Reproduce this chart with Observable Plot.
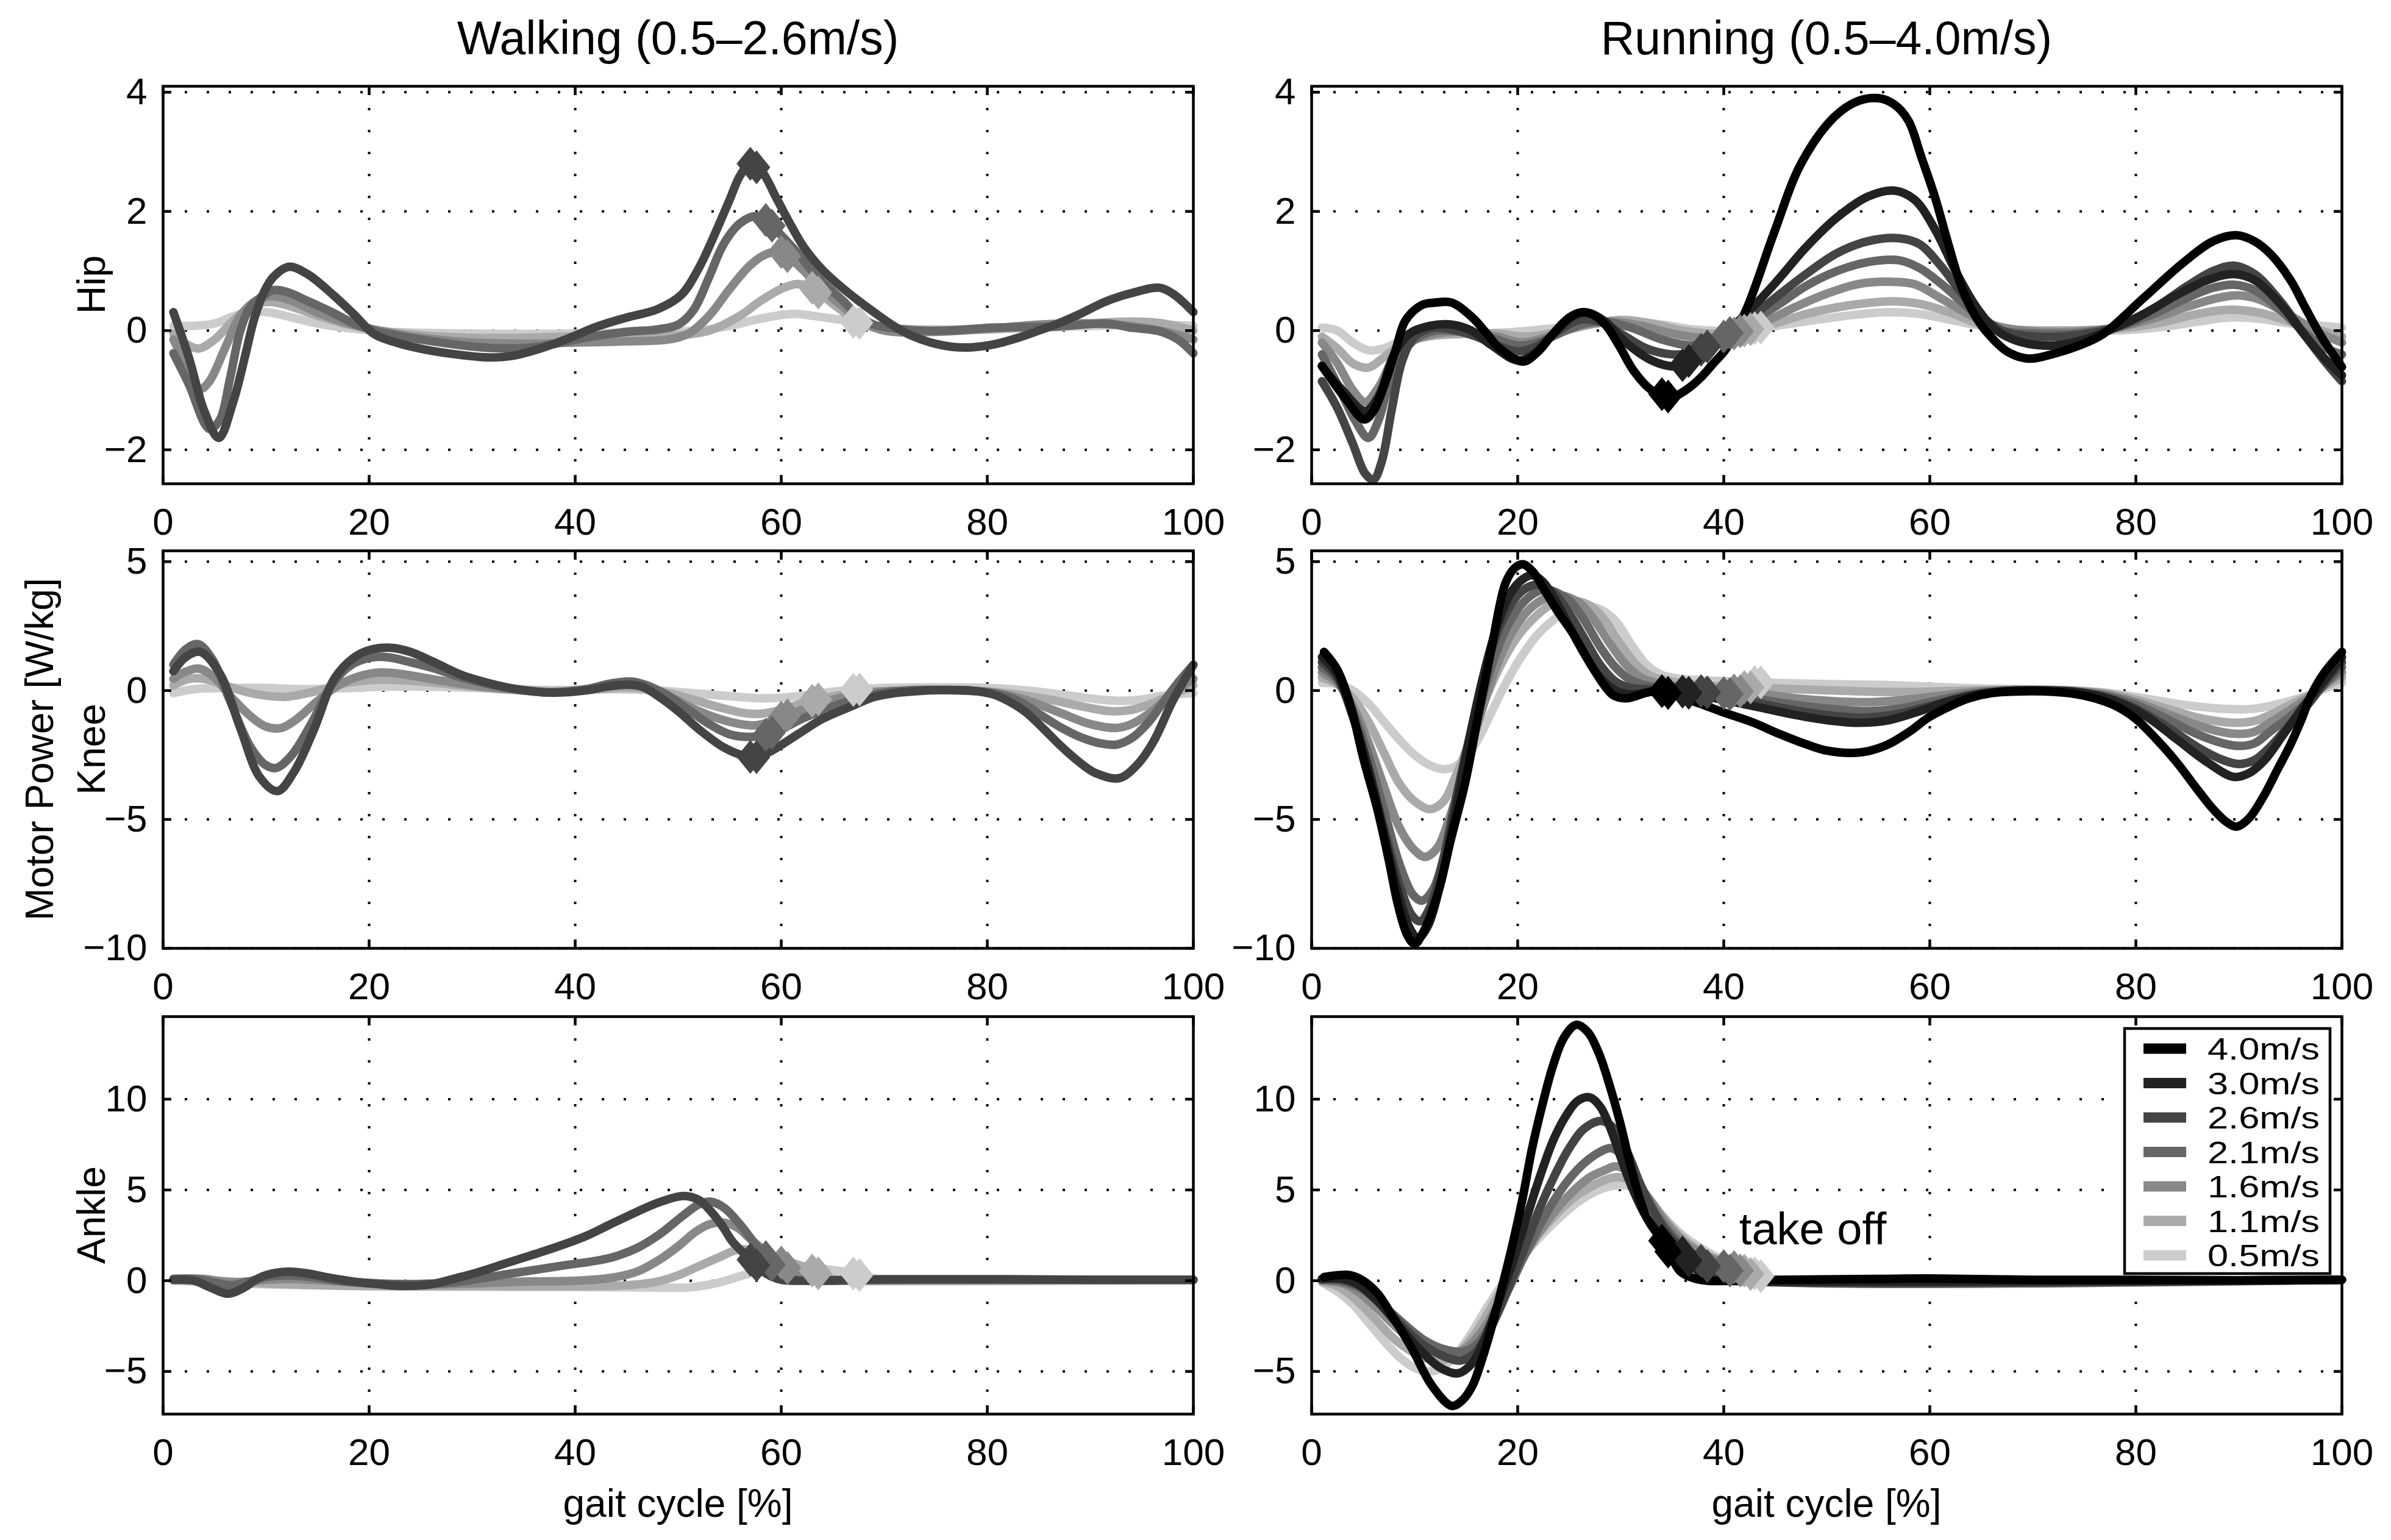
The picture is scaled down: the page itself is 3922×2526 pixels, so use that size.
<!DOCTYPE html>
<html><head><meta charset="utf-8">
<script src="https://cdn.jsdelivr.net/npm/d3@7"></script>
<script src="https://cdn.jsdelivr.net/npm/@observablehq/plot@0.6"></script>
<style>
html,body{margin:0;padding:0;background:#fff;}
#fig{position:relative;width:3922px;height:2526px;background:#fff;font-family:"Liberation Sans",Arial,Helvetica,sans-serif;}
#fig .panel{position:absolute;}
#fig svg{overflow:visible;}
#overlay{position:absolute;left:0;top:0;pointer-events:none;}
</style></head>
<body><div id="fig"></div>
<script>
// ---------- categories / labels ----------
const walkSpeeds = ["2.6m/s","2.1m/s","1.6m/s","1.1m/s","0.5m/s"];
const runSpeeds = ["4.0m/s","3.0m/s","2.6m/s","2.1m/s","1.6m/s","1.1m/s","0.5m/s"];
const walkColors = ["#444444","#666666","#888888","#aaaaaa","#cccccc"];
const runColors = ["#000000","#222222","#444444","#666666","#888888","#aaaaaa","#cccccc"];
const walkToeOff = [57, 58.5, 60, 63, 67];
const runToeOff = [34, 36, 37.8, 40, 41, 42, 43];
const xTicks = [0, 20, 40, 60, 80, 100];
const xGrid = [20, 40, 60, 80];
const hipTicks = [-2, 0, 2, 4];
const kneeTicks = [-10, -5, 0, 5];
const ankleTicks = [-5, 0, 5, 10];
const hipDomain = [-2.57, 4.1];
const kneeDomain = [-10, 5.42];
const ankleDomain = [-7.35, 14.55];
const colTitles = ["Walking (0.5\u20132.6m/s)", "Running (0.5\u20134.0m/s)"];
const rowLabels = ["Hip", "Knee", "Ankle"];
const yTitle = "Motor Power [W/kg]";
const xTitle = "gait cycle [%]";
const takeOffLabel = {x: 41.5, y: 2.0, text: "take off"};

// ---------- Walking: Hip ----------
const wHip26 = [[1,0.31],[2.5,-0.45],[4,-1.35],[5.4,-1.8],[6.8,-1.2],[8,-0.4],[8.8,0.17],[9.8,0.65],[10.7,0.9],[12.2,1.07],[14,0.95],[16.5,0.6],[18.6,0.26],[20.5,-0.06],[23,-0.22],[25.5,-0.32],[28.5,-0.4],[31.6,-0.45],[34,-0.42],[36.8,-0.29],[39.5,-0.12],[42,0.06],[45,0.22],[48,0.36],[50.3,0.6],[52,1.05],[53.5,1.6],[55,2.2],[56,2.6],[57,2.8],[58,2.7],[59.6,2.2],[61,1.75],[62.2,1.4],[64,1.02],[65.5,0.78],[67.5,0.5],[69.4,0.26],[71,0.07],[72.6,-0.08],[74.5,-0.2],[76.5,-0.27],[78.5,-0.28],[80.4,-0.24],[83,-0.12],[85,0.0],[86.9,0.12],[89,0.28],[91.5,0.49],[94,0.63],[96.7,0.72],[98,0.62],[99,0.48],[100,0.31]];
const wHip21 = [[1,-0.38],[2.5,-0.9],[4.5,-1.65],[5.5,-1.5],[6.5,-0.8],[7.5,0.0],[8.5,0.4],[10,0.62],[10.7,0.68],[12,0.65],[14,0.5],[16.5,0.3],[18.5,0.12],[20.5,0.0],[25,-0.15],[31.6,-0.29],[36,-0.28],[41,-0.12],[45,-0.02],[48,0.02],[50,0.1],[51.5,0.35],[53,0.9],[54.4,1.45],[56,1.8],[57.5,1.92],[58.6,1.85],[60,1.6],[61.6,1.3],[63,1.0],[64,0.82],[66,0.5],[67.4,0.26],[69,0.1],[72.6,0.01],[76,0.0],[80.4,0.05],[86.9,0.07],[91.5,0.12],[94,0.05],[96.7,-0.01],[98.5,-0.15],[100,-0.38]];
const wHip16 = [[1,-0.15],[2.5,-0.65],[3.6,-0.98],[4.5,-0.85],[6,-0.3],[7.5,0.25],[9,0.5],[10.5,0.58],[12.5,0.5],[15,0.3],[18,0.12],[21,0.0],[25,-0.12],[30,-0.2],[35,-0.22],[40,-0.2],[45,-0.18],[49,-0.15],[51,-0.05],[53,0.25],[55,0.7],[57,1.1],[58.5,1.28],[60,1.32],[61,1.2],[62.5,0.95],[64,0.7],[66,0.4],[68,0.15],[70,0.0],[75,-0.02],[80,0.03],[85,0.1],[90,0.12],[95,0.05],[98,-0.05],[100,-0.15]];
const wHip11 = [[1,-0.05],[2.5,-0.25],[3.5,-0.3],[5,-0.15],[7,0.2],[9,0.45],[10.5,0.48],[12.5,0.4],[15,0.25],[18,0.1],[21,0.0],[25,-0.08],[30,-0.12],[35,-0.12],[40,-0.1],[45,-0.1],[50,-0.08],[53,0.0],[56,0.25],[58,0.5],[60,0.7],[61.5,0.78],[63,0.72],[65,0.45],[67,0.2],[69,0.05],[72,0.0],[80,0.02],[86,0.08],[90,0.12],[94,0.15],[97,0.12],[100,0.0]];
const wHip05 = [[1,0.08],[3,0.08],[5,0.12],[7,0.25],[9,0.32],[10.5,0.3],[12.5,0.22],[15,0.12],[18,0.04],[22,-0.02],[30,-0.05],[40,-0.05],[48,-0.02],[52,0.0],[55,0.08],[58,0.2],[61,0.28],[63,0.25],[65,0.2],[67,0.15],[70,0.05],[75,0.02],[85,0.05],[95,0.1],[100,0.08]];

// ---------- Walking: Knee ----------
const wKnee26 = [[1,0.75],[2.2,1.3],[3.6,1.5],[5.5,0.66],[7.5,-1.46],[9.4,-3.37],[11.1,-3.9],[12.7,-3.16],[14.7,-1.46],[16.6,0.45],[18.6,1.3],[20.3,1.6],[22.1,1.66],[24,1.5],[26.4,1.08],[29,0.6],[31.6,0.29],[34,0.08],[37.5,-0.08],[41,0.0],[43,0.15],[45,0.23],[46.5,0.15],[48,-0.2],[50,-0.8],[52,-1.5],[54.4,-2.2],[56.5,-2.55],[57.5,-2.6],[59,-2.35],[61.6,-1.7],[64,-1.1],[66.8,-0.61],[69,-0.25],[71,-0.1],[74,0.0],[76,0.02],[78.5,0.0],[80.5,-0.14],[82,-0.4],[83.7,-0.83],[85.5,-1.5],[87,-2.1],[89,-2.8],[90.5,-3.2],[92.8,-3.4],[94.5,-2.9],[96.1,-2.0],[98,-0.4],[100,1.0]];
const wKnee21 = [[1,1.0],[2.2,1.6],[3.4,1.8],[4.8,1.2],[6.5,-0.4],[8.5,-2.2],[10,-2.9],[11,-3.0],[12.5,-2.5],[14.5,-1.2],[16.5,0.3],[18.5,1.05],[20.5,1.3],[22,1.28],[24,1.1],[26.4,0.85],[29,0.5],[31.6,0.25],[34,0.06],[37.5,-0.08],[41,0.05],[43.5,0.28],[45.5,0.35],[47,0.2],[49,-0.2],[51,-0.75],[53,-1.3],[55,-1.7],[57,-1.8],[58.5,-1.72],[60,-1.5],[62,-1.1],[64.5,-0.7],[67,-0.35],[69,-0.15],[72,0.0],[76,0.02],[80.5,-0.1],[83,-0.4],[85,-0.9],[87,-1.4],[89,-1.8],[91,-2.05],[92.5,-2.1],[94,-1.85],[95.5,-1.3],[97,-0.5],[98.5,0.3],[100,1.0]];
const wKnee16 = [[1,0.45],[2,0.7],[3.5,0.85],[5,0.5],[6.5,-0.2],[8.5,-1.0],[10,-1.4],[11.5,-1.45],[13,-1.1],[15,-0.4],[17,0.2],[19,0.55],[21,0.7],[23,0.65],[26,0.45],[30,0.2],[34,0.05],[38,-0.05],[41,0.05],[44,0.2],[46,0.2],[48,0.0],[50,-0.4],[52,-0.8],[54,-1.1],[56,-1.3],[57.5,-1.35],[59,-1.2],[61,-0.9],[63,-0.6],[65,-0.35],[68,-0.1],[72,0.0],[78,0.0],[81,-0.1],[84,-0.4],[87,-0.85],[90,-1.3],[92.5,-1.45],[94,-1.3],[96,-0.8],[98,-0.1],[100,0.45]];
const wKnee11 = [[1,0.2],[2.5,0.45],[4,0.45],[6,0.2],[8,-0.05],[10,-0.2],[12,-0.24],[14,-0.1],[16,0.1],[18,0.3],[20,0.4],[22,0.42],[25,0.35],[29,0.2],[33,0.05],[38,-0.05],[42,0.05],[45,0.12],[48,0.0],[51,-0.3],[54,-0.65],[56.5,-0.88],[58,-0.9],[60,-0.75],[62,-0.5],[64,-0.3],[67,-0.1],[72,0.0],[78,0.0],[82,-0.1],[86,-0.35],[89,-0.6],[92,-0.8],[94,-0.75],[96,-0.5],[98,-0.15],[100,0.2]];
const wKnee05 = [[1,-0.1],[3,0.05],[6,0.1],[10,0.1],[14,0.05],[18,0.1],[22,0.15],[26,0.15],[32,0.08],[38,0.02],[44,0.05],[48,0.0],[52,-0.12],[56,-0.25],[58,-0.3],[60,-0.28],[63,-0.15],[66,0.0],[70,0.1],[76,0.12],[80,0.1],[84,0.0],[88,-0.2],[91,-0.35],[93,-0.4],[95,-0.35],[97,-0.2],[100,-0.1]];

// ---------- Walking: Ankle ----------
const wAnkle26 = [[1,0.05],[3,0.0],[4.5,-0.35],[6.3,-0.72],[7.8,-0.4],[9.3,0.15],[10.8,0.42],[12.2,0.5],[14,0.4],[16,0.18],[18.5,-0.05],[21,-0.2],[23.6,-0.29],[26,-0.2],[28.5,0.15],[30.5,0.45],[33.5,1.0],[36,1.45],[38.4,1.9],[41,2.45],[43.4,3.1],[46,3.8],[48.3,4.35],[50.5,4.67],[52,4.45],[53.2,3.8],[54.3,3.0],[55.2,2.2],[56.2,1.6],[57.2,1.05],[58.5,0.4],[60,0.05],[62,0.0],[70,0.08],[80,0.08],[90,0.05],[100,0.05]];
const wAnkle21 = [[1,0.1],[3,0.1],[5,-0.1],[6.5,-0.25],[8,-0.1],[10,0.2],[12,0.3],[14,0.22],[17,0.0],[21,-0.15],[25,-0.18],[28.5,-0.07],[33.5,0.37],[38.4,0.8],[43.4,1.26],[46,1.8],[48.3,2.6],[50.5,3.6],[52,4.2],[53.2,4.35],[54.5,4.0],[56,3.1],[57.5,2.0],[58.5,1.3],[59.5,0.6],[61,0.1],[63,0.0],[70,0.05],[100,0.05]];
const wAnkle16 = [[1,0.1],[4,0.1],[6.5,-0.1],[9,0.0],[12,0.1],[16,0.0],[20,-0.15],[25,-0.2],[30,-0.15],[35,-0.05],[40,0.0],[43.4,0.15],[46,0.5],[48.3,1.2],[50,1.9],[51.7,2.7],[53,3.1],[54.4,3.2],[55.8,2.9],[57,2.3],[58.5,1.6],[60,1.0],[61,0.5],[62.5,0.1],[64,0.0],[70,0.05],[100,0.05]];
const wAnkle11 = [[1,0.05],[5,0.0],[10,-0.15],[15,-0.25],[20,-0.3],[30,-0.3],[40,-0.3],[45,-0.25],[48,-0.05],[50,0.3],[52,0.8],[54,1.3],[55.7,1.7],[57,1.7],[59,1.4],[61,1.0],[62.5,0.7],[64,0.3],[65.5,0.05],[67,0.0],[100,0.05]];
const wAnkle05 = [[1,0.0],[5,-0.1],[10,-0.2],[20,-0.3],[30,-0.33],[40,-0.35],[48,-0.38],[51,-0.37],[54,-0.1],[56,0.25],[58,0.55],[60,0.7],[62,0.72],[64,0.65],[66,0.5],[67,0.4],[68,0.25],[70,0.05],[72,0.0],[100,0.05]];

// ---------- Running: Hip ----------
const rHip40 = [[1,-0.59],[3.2,-1.12],[5.1,-1.49],[6,-1.35],[7.1,-0.89],[8.2,-0.3],[9.1,0.17],[10.7,0.43],[12,0.47],[13.6,0.47],[15.6,0.22],[17,-0.05],[18.2,-0.29],[20.5,-0.52],[22,-0.35],[23.4,-0.06],[25,0.22],[26.3,0.31],[27.5,0.25],[28.6,0.08],[30,-0.3],[31.2,-0.66],[33,-1.0],[34.8,-1.12],[36.3,-1.0],[37.7,-0.8],[39,-0.55],[40.3,-0.29],[42.3,0.4],[44.9,1.65],[47.5,2.8],[50.7,3.58],[53,3.85],[55,3.9],[56.5,3.8],[57.9,3.53],[59.2,2.9],[60.5,2.24],[61.8,1.45],[63.1,0.72],[64.4,0.25],[65.7,-0.06],[67.5,-0.35],[69.6,-0.47],[72.2,-0.38],[74.5,-0.25],[76.8,-0.06],[80.7,0.54],[84.6,1.14],[87.5,1.5],[89.8,1.6],[91.5,1.5],[93.1,1.28],[95,0.85],[96.4,0.4],[98,-0.1],[100,-0.61]];
const rHip30 = [[1,-0.6],[3,-1.0],[5.2,-1.35],[6.5,-1.1],[8,-0.4],[9.5,-0.05],[11.5,0.08],[13.6,0.1],[15.5,0.0],[17.5,-0.25],[20,-0.5],[21.5,-0.4],[23.5,-0.05],[25.5,0.25],[26.8,0.3],[28.5,0.15],[30.5,-0.2],[33,-0.5],[35,-0.6],[36,-0.58],[38,-0.35],[40,-0.05],[42,0.25],[45,0.8],[48,1.4],[51,1.9],[54,2.25],[56.5,2.35],[58.5,2.2],[60.5,1.7],[62.5,1.0],[64.5,0.4],[66.5,0.0],[69,-0.2],[72,-0.25],[75,-0.15],[78,0.05],[81,0.3],[84,0.6],[87,0.85],[89.5,0.95],[91.5,0.85],[94,0.45],[96.5,-0.1],[98.5,-0.5],[100,-0.75]];
const rHip26 = [[1,-0.85],[2.5,-1.3],[4,-1.9],[5.2,-2.4],[6,-2.5],[6.8,-2.2],[7.8,-1.3],[8.8,-0.5],[10,-0.1],[12,0.05],[14,0.0],[16,-0.1],[18,-0.25],[20,-0.35],[22,-0.25],[24,0.0],[26,0.18],[28,0.15],[30,-0.05],[32.5,-0.3],[35,-0.4],[37.5,-0.35],[40,-0.12],[42.5,0.2],[45,0.55],[48,0.95],[51,1.3],[54,1.5],[57,1.55],[59,1.45],[61,1.1],[63,0.65],[65,0.25],[67,0.0],[70,-0.1],[74,-0.08],[78,0.05],[82,0.4],[85,0.75],[87.5,1.0],[89.5,1.09],[91.5,0.95],[94,0.5],[96.5,-0.1],[98.5,-0.55],[100,-0.85]];
const rHip21 = [[1,-0.4],[2.5,-0.9],[4.2,-1.5],[5.5,-1.8],[6.5,-1.5],[7.5,-0.9],[8.8,-0.4],[10,-0.15],[12,0.0],[14,0.0],[16,-0.05],[18,-0.15],[20,-0.25],[22,-0.2],[24,-0.05],[26.5,0.12],[28.5,0.15],[31,0.05],[34,-0.15],[37,-0.25],[39.5,-0.15],[42,0.1],[45,0.4],[48,0.75],[51,1.0],[54,1.15],[57,1.18],[59,1.05],[61,0.8],[63,0.5],[65,0.2],[67,0.0],[70,-0.05],[74,-0.05],[78,0.05],[82,0.3],[85,0.55],[87.5,0.72],[89.5,0.77],[91.5,0.68],[94,0.35],[96.5,-0.05],[98.5,-0.3],[100,-0.4]];
const rHip16 = [[1,-0.2],[2.5,-0.55],[4,-1.0],[5.2,-1.2],[6.5,-0.95],[8,-0.45],[9.5,-0.2],[12,-0.05],[15,-0.02],[18,-0.1],[20.5,-0.2],[23,-0.1],[26,0.08],[29,0.15],[32,0.08],[35,-0.05],[38,-0.12],[41,-0.05],[44,0.15],[47,0.4],[50,0.62],[53,0.78],[56,0.82],[58.5,0.78],[61,0.55],[63.5,0.3],[66,0.1],[69,0.0],[74,-0.02],[78,0.05],[82,0.22],[85,0.4],[88,0.55],[90,0.59],[92,0.52],[95,0.25],[98,-0.05],[100,-0.2]];
const rHip11 = [[1,-0.1],[2.5,-0.3],[4,-0.55],[5.5,-0.62],[7,-0.45],[9,-0.2],[12,-0.08],[15,-0.05],[18,-0.05],[21,-0.1],[24,-0.02],[27,0.1],[30,0.18],[33,0.12],[36,0.0],[39,-0.05],[42,0.0],[45,0.12],[48,0.28],[52,0.42],[56,0.49],[59,0.45],[62,0.3],[65,0.1],[68,0.02],[72,0.0],[78,0.03],[82,0.12],[86,0.28],[89,0.35],[92,0.3],[95,0.15],[98,0.0],[100,-0.1]];
const rHip05 = [[1,0.05],[2.5,0.0],[4,-0.2],[5.5,-0.33],[7,-0.3],[9,-0.15],[12,-0.08],[16,-0.05],[20,-0.02],[24,0.05],[28,0.12],[31,0.15],[34,0.1],[37,0.02],[41,0.0],[45,0.08],[49,0.18],[53,0.27],[56,0.31],[59,0.28],[62,0.18],[65,0.08],[68,0.02],[72,0.0],[78,0.0],[82,0.05],[86,0.15],[89,0.22],[92,0.2],[95,0.12],[98,0.08],[100,0.05]];

// ---------- Running: Knee ----------
const rKnee40 = [[1.2,1.5],[2.5,0.8],[3.8,-0.61],[5,-2.6],[6.4,-4.64],[7.5,-6.6],[8.4,-8.35],[9.3,-9.5],[10,-9.83],[10.8,-9.4],[12.3,-7.8],[13.5,-5.8],[14.9,-3.58],[16.2,-0.9],[17.5,1.72],[18.8,4.15],[19.7,4.75],[20.5,4.9],[21.5,4.6],[22.7,3.83],[24,3.0],[25.3,2.25],[27.3,0.87],[28.5,0.15],[29.3,-0.19],[30.6,-0.3],[32.5,-0.08],[33.8,0.0],[35.5,-0.2],[37.7,-0.51],[40,-0.85],[42.9,-1.25],[45.5,-1.7],[48.1,-2.1],[50,-2.33],[52.4,-2.42],[54,-2.35],[55.9,-2.1],[58,-1.6],[59.9,-1.04],[62,-0.6],[63.8,-0.3],[66,-0.1],[69,-0.03],[72,-0.05],[74.2,-0.14],[76,-0.3],[78.1,-0.61],[80,-1.1],[82,-1.89],[84,-2.8],[85.9,-3.8],[87.5,-4.6],[88.8,-5.1],[89.8,-5.28],[91,-4.95],[92.4,-4.1],[93.7,-3.1],[95,-2.1],[96,-1.2],[97,-0.19],[98.3,0.7],[100,1.5]];
const rKnee30 = [[1,1.3],[2.5,0.6],[4,-1.0],[5.5,-3.0],[7,-5.5],[8.5,-8.0],[9.5,-9.2],[10.3,-9.6],[11.2,-9.2],[12.5,-7.5],[13.8,-5.0],[15,-2.5],[16.5,0.3],[18,2.5],[19.5,3.9],[20.8,4.4],[21.5,4.47],[22.5,4.2],[23.8,3.4],[25,2.5],[26.5,1.4],[28,0.5],[29.5,0.0],[31,-0.15],[33,-0.05],[35.5,0.0],[38,-0.2],[41,-0.45],[44,-0.7],[47,-0.95],[50,-1.15],[53,-1.25],[56,-1.15],[59,-0.8],[62,-0.4],[65,-0.12],[68,0.0],[72,0.0],[75,-0.1],[78,-0.4],[81,-1.0],[84,-1.9],[87,-2.8],[89.5,-3.35],[91,-3.2],[92.5,-2.7],[94.5,-1.6],[96.5,-0.5],[98.5,0.5],[100,1.3]];
const rKnee26 = [[1,1.1],[2.5,0.5],[4,-1.0],[5.5,-3.0],[7,-5.3],[8.5,-7.5],[9.7,-8.7],[10.5,-8.95],[11.5,-8.4],[12.8,-6.5],[14,-4.2],[15.5,-1.5],[17,1.0],[18.5,2.7],[20,3.7],[21.2,4.05],[22,4.1],[23.5,3.8],[25,3.0],[26.5,2.0],[28,1.0],[29.5,0.35],[31,0.1],[33,0.05],[35,0.05],[37.5,0.0],[40,-0.2],[43,-0.45],[46,-0.7],[50,-0.95],[54,-1.05],[57,-0.9],[60,-0.6],[63,-0.28],[66,-0.08],[70,0.0],[74,-0.05],[77,-0.25],[80,-0.7],[83,-1.4],[86,-2.2],[88.5,-2.7],[90,-2.85],[91.5,-2.7],[93,-2.2],[95,-1.3],[97,-0.4],[98.5,0.4],[100,1.1]];
const rKnee21 = [[1,0.9],[2.5,0.4],[4,-0.8],[5.5,-2.5],[7,-4.6],[8.5,-6.7],[9.8,-7.9],[10.7,-8.15],[11.8,-7.7],[13,-6.2],[14.5,-3.8],[16,-1.2],[17.5,1.0],[19,2.5],[20.5,3.4],[22,3.85],[23,3.9],[25,3.5],[26.5,2.7],[28,1.7],[29.5,0.9],[31,0.4],[33,0.15],[35,0.08],[37,0.05],[40,-0.1],[43,-0.3],[46,-0.5],[50,-0.7],[54,-0.8],[57,-0.7],[60,-0.45],[63,-0.2],[66,-0.05],[70,0.0],[74,-0.05],[77,-0.2],[80,-0.55],[83,-1.1],[86,-1.7],[88.5,-2.05],[90,-2.15],[91.5,-2.05],[93,-1.6],[95,-1.0],[97,-0.3],[98.5,0.3],[100,0.9]];
const rKnee16 = [[1,0.7],[2.5,0.3],[4,-0.6],[5.5,-2.0],[7,-3.7],[8.5,-5.3],[10,-6.2],[11,-6.45],[12.2,-6.1],[13.5,-4.8],[15,-2.8],[16.5,-0.8],[18,1.0],[19.5,2.3],[21,3.1],[22.5,3.55],[24,3.7],[26,3.4],[27.5,2.7],[29,1.8],[30.5,1.0],[32,0.5],[34,0.25],[36,0.15],[38,0.1],[41,0.0],[44,-0.15],[47,-0.3],[51,-0.42],[54,-0.45],[57,-0.38],[60,-0.25],[63,-0.1],[66,0.0],[70,0.02],[74,-0.02],[77,-0.15],[80,-0.45],[83,-0.9],[86,-1.35],[88.5,-1.62],[90,-1.68],[91.5,-1.6],[93,-1.25],[95,-0.75],[97,-0.2],[98.5,0.3],[100,0.7]];
const rKnee11 = [[1,0.5],[2.5,0.25],[4,-0.3],[5.5,-1.2],[7,-2.4],[8.5,-3.6],[10,-4.3],[11.5,-4.6],[12.8,-4.3],[14,-3.3],[15.5,-1.8],[17,-0.2],[18.5,1.1],[20,2.1],[21.8,2.9],[23.3,3.35],[25,3.5],[27,3.3],[28.5,2.7],[30,1.8],[31.5,1.0],[33,0.55],[35,0.35],[38,0.2],[41,0.15],[44,0.1],[47,0.05],[51,0.0],[55,-0.05],[59,-0.05],[63,0.0],[67,0.02],[71,0.02],[74,0.0],[77,-0.1],[80,-0.35],[83,-0.7],[86,-1.05],[88.5,-1.22],[90,-1.25],[91.5,-1.18],[93,-0.95],[95,-0.55],[97,-0.15],[98.5,0.2],[100,0.5]];
const rKnee05 = [[1,0.3],[2.5,0.25],[4,0.0],[5.5,-0.5],[7,-1.2],[8.5,-1.9],[10,-2.5],[11.5,-2.9],[13,-3.05],[14.5,-2.8],[16,-2.0],[17.5,-0.8],[19,0.4],[20.5,1.4],[22,2.2],[23.5,2.75],[25,3.15],[26,3.3],[28,3.15],[29.5,2.7],[31,1.8],[32.5,1.0],[34,0.6],[36,0.45],[38,0.4],[41,0.35],[45,0.3],[50,0.25],[55,0.22],[60,0.15],[65,0.08],[70,0.05],[74,0.0],[77,-0.08],[80,-0.25],[83,-0.45],[86,-0.62],[89,-0.72],[91,-0.72],[93,-0.6],[95,-0.4],[97,-0.15],[98.5,0.1],[100,0.3]];

// ---------- Running: Ankle ----------
const rAnkle40 = [[1.2,0.2],[2.5,0.3],[3.8,0.3],[5,0.0],[6.4,-0.7],[8,-2.1],[9.7,-3.7],[11.7,-5.8],[13.6,-6.9],[14.6,-6.6],[15.6,-5.8],[16.5,-4.4],[17.5,-2.5],[18.5,-0.3],[19.5,2.0],[20.5,4.6],[21.4,7.3],[22.4,9.7],[23.4,11.8],[24.5,13.4],[25.7,14.1],[26.8,13.7],[27.9,12.5],[28.9,10.8],[29.9,8.8],[31.2,5.8],[32.5,3.5],[34,2.2],[35,1.2],[35.8,0.5],[37,0.15],[38.4,0.0],[45,0.05],[55,0.1],[60,0.12],[70,0.05],[80,0.05],[90,0.02],[100,0.05]];
const rAnkle30 = [[1,0.1],[3,0.1],[4.5,-0.2],[6.5,-1.2],[8.5,-2.5],[10.5,-3.8],[12.5,-4.8],[14.2,-5.1],[15.5,-4.6],[16.5,-3.6],[17.5,-2.2],[18.5,-0.6],[19.5,1.0],[20.5,2.8],[21.5,4.6],[22.5,6.3],[23.5,7.8],[24.7,9.1],[25.8,9.9],[27,10.1],[28,9.6],[29,8.4],[30,6.8],[31.2,5.0],[32.5,3.5],[34,2.5],[35.8,1.7],[37,0.8],[38,0.3],[39,0.05],[40,0.0],[100,0.05]];
const rAnkle26 = [[1,0.1],[3,0.05],[5,-0.4],[7,-1.4],[9,-2.6],[11,-3.6],[13,-4.2],[14.5,-4.4],[15.8,-4.0],[17,-3.0],[18.3,-1.5],[19.5,0.2],[20.8,2.0],[22,3.8],[23.5,5.7],[25,7.3],[26.5,8.4],[28.2,8.8],[29.5,8.3],[30.7,7.0],[32,5.2],[33.5,3.5],[35,2.3],[36.5,1.6],[37.8,1.1],[39,0.5],[40,0.15],[41,0.0],[100,0.05]];
const rAnkle21 = [[1,0.05],[3,-0.05],[5,-0.5],[7,-1.4],[9,-2.4],[11,-3.3],[13,-3.8],[14.8,-3.9],[16.2,-3.4],[17.5,-2.3],[19,-0.6],[20.5,1.2],[22,2.9],[23.5,4.4],[25,5.6],[26.5,6.5],[28,7.1],[29,7.3],[30,7.0],[31.2,6.0],[32.5,4.6],[34,3.2],[35.5,2.2],[37,1.5],[38.5,1.1],[40,0.8],[41,0.4],[42,0.05],[43,0.0],[100,0.05]];
const rAnkle16 = [[1,0.0],[3,-0.15],[4.5,-0.6],[6.5,-1.6],[8.5,-2.7],[10.5,-3.5],[12,-3.9],[13.5,-4.0],[15,-3.7],[16.5,-2.8],[18,-1.4],[19.5,0.2],[21,1.7],[22.5,3.0],[24,4.1],[25.5,5.0],[27,5.7],[28.5,6.1],[29.5,6.3],[30.5,6.1],[31.5,5.5],[33,4.3],[34.5,3.1],[36,2.2],[37.5,1.6],[39,1.2],[40.5,0.9],[41.5,0.6],[42.5,0.2],[43.5,0.0],[100,0.05]];
const rAnkle11 = [[1,-0.05],[2.5,-0.3],[4,-0.9],[6,-2.0],[8,-3.2],[10,-4.0],[11.5,-4.35],[12.5,-4.4],[14,-4.1],[15.5,-3.2],[17,-1.9],[18.5,-0.4],[20,1.0],[21.5,2.2],[23,3.2],[24.5,4.1],[26,4.8],[27.5,5.3],[29,5.65],[30,5.7],[31,5.5],[32.5,4.7],[34,3.6],[35.5,2.6],[37,1.9],[38.5,1.4],[40,1.0],[41.5,0.7],[42.5,0.4],[43.5,0.1],[44.5,0.0],[100,0.05]];
const rAnkle05 = [[1,-0.1],[2.5,-0.6],[4,-1.3],[5.5,-2.3],[7,-3.3],[8.5,-4.2],[10,-4.8],[11.3,-5.0],[12.5,-4.85],[14,-4.1],[15.5,-2.9],[17,-1.5],[18.5,-0.2],[20,1.0],[21.5,2.0],[23,2.9],[24.5,3.7],[26,4.4],[27.5,4.9],[29,5.2],[30.5,5.25],[31.5,5.0],[33,4.2],[34.5,3.3],[36,2.5],[37.5,1.9],[39,1.4],[40.5,1.0],[42,0.65],[43,0.4],[44,0.15],[45,0.0],[100,0.05]];

// ---------- layout ----------
const FRAME_LEFT = [267, 2151];
const FRAME_TOP = [141, 903, 1667];
const FW = 1690, FH = 652;
const M = {l: 150, r: 20, t: 10, b: 95};
const FONT = '"Liberation Sans", Arial, Helvetica, sans-serif';

// a slightly tall diamond, like the original markers
const tallDiamond = {
  draw(context, size) {
    const s = Math.sqrt(size);
    const w = s * 0.6, h = s * 0.74;
    context.moveTo(0, -h); context.lineTo(w, 0); context.lineTo(0, h); context.lineTo(-w, 0); context.closePath();
  }
};

function interp(s, x) {
  for (let i = 1; i < s.length; i++) {
    if (s[i][0] >= x) {
      const [x0, y0] = s[i - 1], [x1, y1] = s[i];
      return y0 + (y1 - y0) * (x - x0) / (x1 - x0);
    }
  }
  return s[s.length - 1][1];
}

function makePanel(series, colors, toe, domain, ticks, extra = []) {
  const order = series.map((_, i) => i).reverse(); // lightest first, darkest on top
  const gridStyle = {stroke: "#000", strokeOpacity: 1, strokeWidth: 4, strokeDasharray: "4,32"};
  const marks = [
    Plot.gridX(xGrid, gridStyle),
    Plot.gridY(ticks, gridStyle),
    ...order.map(i => Plot.line(series[i], {x: d => d[0], y: d => d[1], stroke: colors[i], strokeWidth: 14, curve: "catmull-rom", strokeLinejoin: "round"})),
    ...order.map(i => Plot.dot([toe[i], toe[i] + 0.6].map(x => [x, interp(series[i], x)]), {x: d => d[0], y: d => d[1], symbol: tallDiamond, r: 20, fill: colors[i], stroke: colors[i], strokeWidth: 2})),
    ...extra,
    Plot.frame({stroke: "#000", strokeWidth: 4.5}),
    Plot.axisX(xTicks, {anchor: "bottom", tickSize: -14, fill: "none", strokeWidth: 4.5, label: null}),
    Plot.axisX(xTicks, {anchor: "top", tickSize: -14, fill: "none", strokeWidth: 4.5, label: null}),
    Plot.axisY(ticks, {anchor: "left", tickSize: -14, fill: "none", strokeWidth: 4.5, label: null}),
    Plot.axisY(ticks, {anchor: "right", tickSize: -14, fill: "none", strokeWidth: 4.5, label: null}),
    Plot.axisX(xTicks, {anchor: "bottom", tickSize: 0, tickPadding: 39, fontSize: 62, label: null, stroke: "none", fill: "#000", tickFormat: "d"}),
    Plot.axisY(ticks, {anchor: "left", tickSize: 0, tickPadding: 26, fontSize: 62, label: null, stroke: "none", fill: "#000", tickFormat: "d"})
  ];
  return Plot.plot({
    width: FW + M.l + M.r, height: FH + M.t + M.b,
    marginLeft: M.l, marginRight: M.r, marginTop: M.t, marginBottom: M.b,
    x: {domain: [0, 100], axis: null},
    y: {domain, axis: null},
    style: {background: "transparent", fontFamily: FONT, fontSize: "62px", color: "#000", overflow: "visible"},
    marks
  });
}

const walkHip = [wHip26, wHip21, wHip16, wHip11, wHip05];
const walkKnee = [wKnee26, wKnee21, wKnee16, wKnee11, wKnee05];
const walkAnkle = [wAnkle26, wAnkle21, wAnkle16, wAnkle11, wAnkle05];
const runHip = [rHip40, rHip30, rHip26, rHip21, rHip16, rHip11, rHip05];
const runKnee = [rKnee40, rKnee30, rKnee26, rKnee21, rKnee16, rKnee11, rKnee05];
const runAnkle = [rAnkle40, rAnkle30, rAnkle26, rAnkle21, rAnkle16, rAnkle11, rAnkle05];

const panels = [
  {col: 0, row: 0, s: walkHip, c: walkColors, t: walkToeOff, d: hipDomain, k: hipTicks},
  {col: 0, row: 1, s: walkKnee, c: walkColors, t: walkToeOff, d: kneeDomain, k: kneeTicks},
  {col: 0, row: 2, s: walkAnkle, c: walkColors, t: walkToeOff, d: ankleDomain, k: ankleTicks},
  {col: 1, row: 0, s: runHip, c: runColors, t: runToeOff, d: hipDomain, k: hipTicks},
  {col: 1, row: 1, s: runKnee, c: runColors, t: runToeOff, d: kneeDomain, k: kneeTicks},
  {col: 1, row: 2, s: runAnkle, c: runColors, t: runToeOff, d: ankleDomain, k: ankleTicks,
   extra: [Plot.text([takeOffLabel], {x: "x", y: "y", text: "text", textAnchor: "start", lineAnchor: "bottom", fontSize: 74, fill: "#000"})]}
];

const fig = document.getElementById("fig");
for (const p of panels) {
  const el = makePanel(p.s, p.c, p.t, p.d, p.k, p.extra || []);
  const wrap = document.createElement("div");
  wrap.className = "panel";
  wrap.style.left = (FRAME_LEFT[p.col] - M.l) + "px";
  wrap.style.top = (FRAME_TOP[p.row] - M.t) + "px";
  wrap.appendChild(el);
  fig.appendChild(wrap);
}

// ---------- overlay: titles, labels, legend ----------
const NS = "http://www.w3.org/2000/svg";
const ov = document.createElementNS(NS, "svg");
ov.setAttribute("id", "overlay");
ov.setAttribute("width", 3922);
ov.setAttribute("height", 2526);
ov.setAttribute("font-family", FONT);
function txt(str, attrs) {
  const t = document.createElementNS(NS, "text");
  for (const [k, v] of Object.entries(attrs)) t.setAttribute(k, v);
  t.textContent = str;
  ov.appendChild(t);
  return t;
}
function rect(attrs) {
  const r = document.createElementNS(NS, "rect");
  for (const [k, v] of Object.entries(attrs)) r.setAttribute(k, v);
  ov.appendChild(r);
  return r;
}
colTitles.forEach((t, i) => txt(t, {x: FRAME_LEFT[i] + FW / 2, y: 89, "text-anchor": "middle", "font-size": 77, fill: "#000"}));
rowLabels.forEach((t, i) => txt(t, {transform: `translate(172,${FRAME_TOP[i] + FH / 2}) rotate(-90)`, "text-anchor": "middle", "font-size": 64, fill: "#000"}));
txt(yTitle, {transform: `translate(87,${FRAME_TOP[1] + FH / 2}) rotate(-90)`, "text-anchor": "middle", "font-size": 64, fill: "#000"});
[0, 1].forEach(i => txt(xTitle, {x: FRAME_LEFT[i] + FW / 2, y: 2488, "text-anchor": "middle", "font-size": 64, fill: "#000"}));

// legend
const LG = {x: 3485, y: 1687, w: 337, h: 402};
rect({x: LG.x, y: LG.y, width: LG.w, height: LG.h, fill: "#fff", stroke: "#000", "stroke-width": 4.5});
runSpeeds.forEach((s, i) => {
  const cy = 1720 + 56.5 * i;
  rect({x: 3516, y: cy - 8.5, width: 70, height: 17, fill: runColors[i]});
  txt(s, {x: 3621, y: cy + 18, "font-size": 50, fill: "#000", textLength: 184, lengthAdjust: "spacingAndGlyphs"});
});
fig.appendChild(ov);
</script>
</body></html>
